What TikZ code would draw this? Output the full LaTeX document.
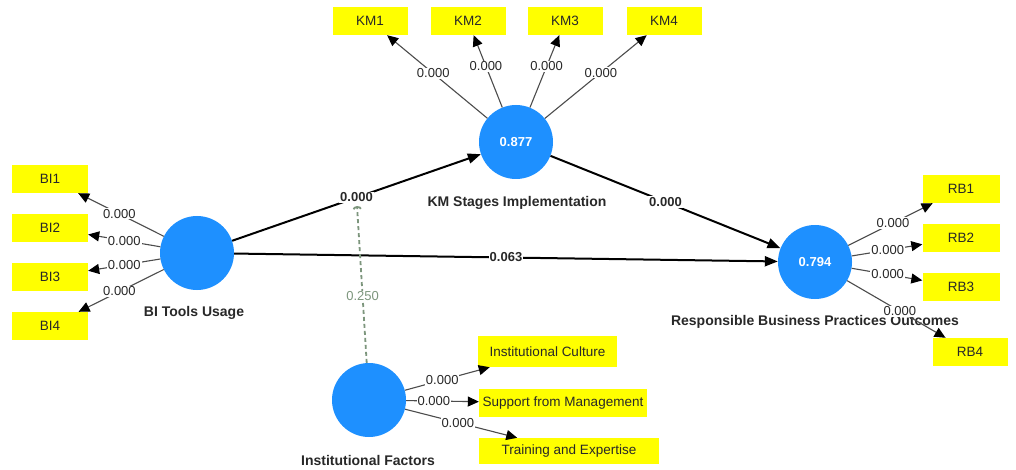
\documentclass[tikz,border=0pt]{standalone}
\usepackage{fontspec}
\setmainfont{Liberation Sans}
\usetikzlibrary{arrows.meta}
\definecolor{lvblue}{RGB}{30,144,255}
\definecolor{indyellow}{RGB}{255,255,0}
\definecolor{modgreen}{RGB}{125,150,125}
\definecolor{txt}{RGB}{40,40,40}
\begin{document}
\begin{tikzpicture}[x=1pt,y=-1pt,
  lv/.style={circle,fill=lvblue,minimum size=74pt,inner sep=0pt,text=white,font=\fontsize{13}{15}\selectfont\bfseries},
  ind/.style={rectangle,fill=indyellow,minimum width=76pt,minimum height=28pt,inner sep=1pt,text=txt,font=\fontsize{13.5}{15}\selectfont},
  lvname/.style={text=txt,font=\fontsize{14}{16}\selectfont\bfseries,inner sep=1pt},
  load/.style={draw=black!70,line width=1.1pt,-{Triangle[length=11pt,width=10pt,color=black]}},
  spath/.style={draw=black,line width=2pt,-{Triangle[length=13pt,width=10pt]}},
  lab/.style={fill=white,inner sep=1pt,text=txt,font=\fontsize{13}{15}\selectfont},
  plab/.style={fill=white,inner sep=1pt,text=txt,font=\fontsize{13}{15}\selectfont\bfseries},
  mod/.style={draw=modgreen,line width=1.8pt,dash pattern=on 4pt off 3pt,-{Arc Barb[length=3pt,width=9pt]}},
  mlab/.style={fill=white,inner sep=1pt,text=modgreen,font=\fontsize{13}{15}\selectfont}]
\useasboundingbox[fill=white] (0,0) rectangle (1016,470);

% latent variables
\node[lv] (BI) at (197,253) {};
\node[lv] (KM) at (516,142) {0.877};
\node[lv] (RB) at (815,262) {0.794};
\node[lv] (IF) at (369,400) {};

% names
\node[lvname] (nBI) at (194,313) {BI Tools Usage};
\node[lvname] (nKM) at (517,203) {KM Stages Implementation};
\node[lvname] (nRB) at (815,322) {Responsible Business Practices Outcomes};
\node[lvname] (nIF) at (368,460) {Institutional Factors};

% indicators
\node[ind] (BI1) at (50,179) {BI1};
\node[ind] (BI2) at (50,228) {BI2};
\node[ind] (BI3) at (50,277) {BI3};
\node[ind] (BI4) at (50,326) {BI4};
\node[ind,minimum width=75pt] (KM1) at (370,21) {KM1};
\node[ind,minimum width=75pt] (KM2) at (468,21) {KM2};
\node[ind,minimum width=75pt] (KM3) at (565,21) {KM3};
\node[ind,minimum width=75pt] (KM4) at (664,21) {KM4};
\node[ind,minimum width=77pt] (RB1) at (961,189) {RB1};
\node[ind,minimum width=77pt] (RB2) at (961,238) {RB2};
\node[ind,minimum width=77pt] (RB3) at (961,287) {RB3};
\node[ind,minimum width=75pt] (RB4) at (970,352) {RB4};
\node[ind,minimum width=139pt,minimum height=31pt] (IC) at (547.5,351.5) {Institutional Culture};
\node[ind,minimum width=168pt] (SM) at (563,403) {Support from Management};
\node[ind,minimum width=180pt,minimum height=26pt] (TE) at (569,451) {Training and Expertise};

% loadings
\draw[load] (BI) -- node[lab,pos=.52]{0.000} (BI1);
\draw[load] (BI) -- node[lab,pos=.50]{0.000} (BI2);
\draw[load] (BI) -- node[lab,pos=.50]{0.000} (BI3);
\draw[load] (BI) -- node[lab,pos=.52]{0.000} (BI4);
\draw[load] (KM) -- node[lab,pos=.54]{0.000} (KM1);
\draw[load] (KM) -- node[lab,pos=.57]{0.000} (KM2);
\draw[load] (KM) -- node[lab,pos=.57]{0.000} (KM3);
\draw[load] (KM) -- node[lab,pos=.55]{0.000} (KM4);
\draw[load] (RB) -- node[lab,pos=.53]{0.000} (RB1);
\draw[load] (RB) -- node[lab,pos=.51]{0.000} (RB2);
\draw[load] (RB) -- node[lab,pos=.51]{0.000} (RB3);
\draw[load] (RB) -- node[lab,pos=.535]{0.000} (RB4);
\draw[load] (IF) -- node[lab,pos=.44]{0.000} (IC);
\draw[load] (IF) -- node[lab,pos=.38]{0.000} (SM);
\draw[load] (IF) -- node[lab,pos=.47]{0.000} (TE);

% structural paths
\draw[spath] (BI) -- node[plab,pos=.5] (lBK) {0.000} (KM);
\draw[spath] (KM) -- node[plab,pos=.5] {0.000} (RB);
\draw[spath] (BI) -- node[plab,pos=.5] {0.063} (RB);

% moderating effect
\draw[mod,shorten >=2pt] (IF) -- node[mlab,pos=.42]{0.250} (lBK);
\end{tikzpicture}
\end{document}
